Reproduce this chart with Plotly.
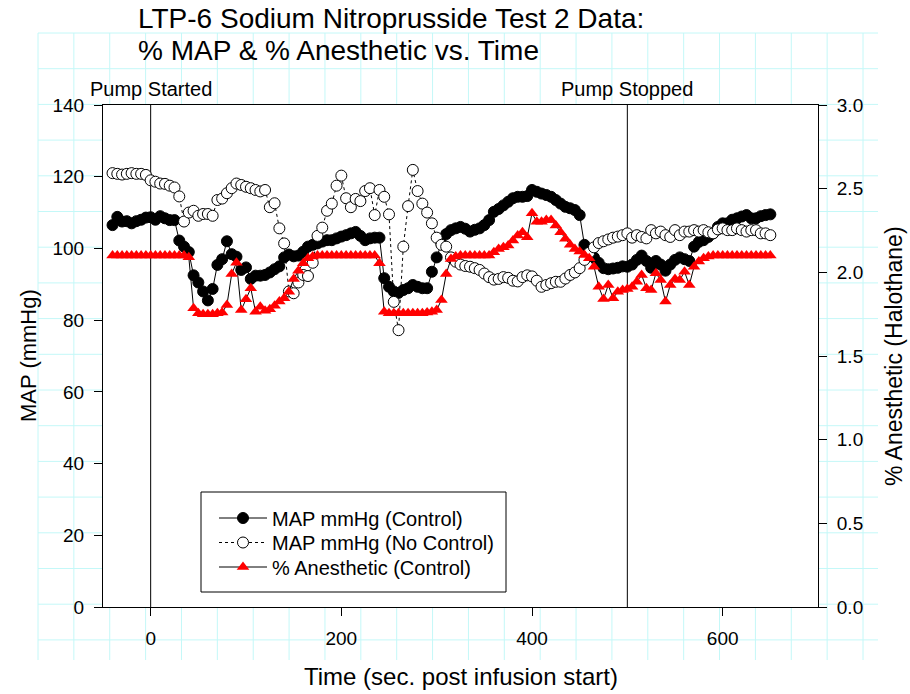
import plotly.graph_objects as go

# ---------------- data ----------------
time_s = [-40, -35, -30, -25, -20, -15, -10, -5, 0, 5,
          10, 15, 20, 25, 30, 35, 40, 45, 50, 55,
          60, 65, 70, 75, 80, 85, 90, 95, 100, 105,
          110, 115, 120, 125, 130, 135, 140, 145, 150, 155,
          160, 165, 170, 175, 180, 185, 190, 195, 200, 205,
          210, 215, 220, 225, 230, 235, 240, 245, 250, 255,
          260, 265, 270, 275, 280, 285, 290, 295, 300, 305,
          310, 315, 320, 325, 330, 335, 340, 345, 350, 355,
          360, 365, 370, 375, 380, 385, 390, 395, 400, 405,
          410, 415, 420, 425, 430, 435, 440, 445, 450, 455,
          460, 465, 470, 475, 480, 485, 490, 495, 500, 505,
          510, 515, 520, 525, 530, 535, 540, 545, 550, 555,
          560, 565, 570, 575, 580, 585, 590, 595, 600, 605,
          610, 615, 620, 625, 630, 635, 640, 645, 650]

map_control = [106.5, 108.8, 107.5, 107.6, 107.0, 107.6, 108.0, 108.6, 108.7, 108.0,
               109.0, 108.4, 107.9, 107.9, 102.2, 100.5, 99.0, 92.5, 90.5, 88.0,
               85.5, 88.7, 95.4, 97.0, 102.0, 98.4, 97.7, 94.0, 94.7, 91.5,
               92.4, 92.4, 92.6, 93.3, 94.2, 95.0, 97.5, 98.3, 97.8, 98.0,
               99.1, 100.5, 101.0, 101.4, 101.9, 102.3, 102.3, 102.8, 103.3, 103.7,
               104.2, 104.6, 103.5, 102.3, 102.8, 103.0, 103.0, 91.7, 89.3, 88.0,
               87.6, 88.4, 88.9, 89.8, 89.3, 88.9, 88.9, 93.5, 97.5, 101.4,
               104.0, 105.1, 105.6, 106.0, 105.5, 104.7, 105.2, 105.6, 106.5, 107.9,
               110.2, 111.0, 112.0, 113.0, 114.0, 114.4, 114.4, 114.6, 116.3, 115.8,
               115.3, 114.9, 114.4, 113.5, 112.5, 111.6, 111.2, 110.7, 109.3, 101.0,
               99.1, 97.5, 96.0, 94.5, 94.2, 94.4, 94.6, 95.0, 94.9, 95.5,
               96.8, 98.0, 96.5, 94.6, 96.5, 95.5, 93.8, 95.5, 96.8, 97.5,
               97.0, 96.5, 100.5, 101.8, 102.3, 103.2, 104.2, 106.0, 107.0, 107.0,
               108.0, 108.4, 108.9, 109.3, 108.4, 108.4, 109.0, 109.3, 109.5]

map_no_control = [121.0, 120.8, 120.6, 120.8, 121.0, 120.8, 120.8, 120.5, 119.0, 118.6,
                  118.1, 118.0, 117.5, 117.0, 114.5, 107.5, 110.0, 110.5, 109.1, 109.6,
                  109.6, 109.1, 113.5, 113.9, 115.4, 116.8, 118.1, 117.7, 117.2, 116.8,
                  116.3, 115.9, 116.3, 111.5, 112.6, 105.6, 101.4, 88.0, 87.5, 90.5,
                  92.6, 92.3, 96.0, 103.5, 105.8, 110.5, 112.5, 117.5, 120.3, 114.0,
                  111.5, 113.8, 113.2, 116.0, 116.8, 109.3, 116.3, 114.4, 109.5, 85.1,
                  77.2, 100.5, 111.8, 121.9, 116.0, 112.5, 110.0, 107.0, 103.0, 101.0,
                  100.5, 97.5, 96.3, 95.5, 95.1, 94.9, 94.5, 94.0, 93.0, 92.0,
                  91.3, 91.5, 92.0, 91.8, 91.0, 90.8, 92.0, 92.5, 92.2, 91.0,
                  89.3, 89.8, 90.3, 90.7, 90.7, 91.6, 92.6, 93.3, 94.5, 96.8,
                  98.8, 100.3, 101.5, 102.0, 102.5, 103.0, 103.3, 103.7, 104.2, 103.0,
                  103.7, 103.2, 102.8, 105.1, 104.2, 104.7, 103.7, 103.2, 105.1, 103.7,
                  104.7, 104.7, 105.1, 104.7, 105.1, 104.5, 104.2, 105.3, 105.6, 105.1,
                  105.1, 105.6, 105.1, 104.7, 105.1, 105.1, 104.2, 104.2, 103.7]

anesthetic_pct = [2.1, 2.1, 2.1, 2.1, 2.1, 2.1, 2.1, 2.1, 2.1, 2.1,
                  2.1, 2.1, 2.1, 2.1, 2.1, 2.1, 2.09, 1.785, 1.755, 1.75,
                  1.75, 1.75, 1.755, 1.76, 1.805, 1.99, 2.058, 1.775, 1.839, 1.905,
                  1.765, 1.795, 1.771, 1.78, 1.80, 1.825, 1.845, 1.884, 1.96, 2.01,
                  2.054, 2.084, 2.094, 2.1, 2.1, 2.1, 2.1, 2.1, 2.1, 2.1,
                  2.1, 2.1, 2.1, 2.1, 2.1, 2.1, 2.054, 1.765, 1.755, 1.755,
                  1.755, 1.755, 1.755, 1.755, 1.755, 1.755, 1.76, 1.765, 1.775, 1.835,
                  1.99, 2.08, 2.094, 2.1, 2.1, 2.1, 2.1, 2.1, 2.1, 2.1,
                  2.12, 2.14, 2.15, 2.16, 2.19, 2.22, 2.24, 2.21, 2.353, 2.303,
                  2.303, 2.313, 2.313, 2.28, 2.24, 2.2, 2.165, 2.14, 2.124, 2.104,
                  2.084, 2.034, 1.914, 1.84, 1.924, 1.845, 1.884, 1.894, 1.9, 1.914,
                  1.944, 1.984, 1.905, 1.894, 1.994, 1.954, 1.825, 1.924, 1.96, 1.954,
                  2.004, 1.924, 2.034, 2.064, 2.084, 2.094, 2.1, 2.1, 2.1, 2.1,
                  2.1, 2.1, 2.1, 2.1, 2.1, 2.1, 2.1, 2.1, 2.1]

assert len(time_s) == len(map_control) == len(map_no_control) == len(anesthetic_pct), (
    len(time_s), len(map_control), len(map_no_control), len(anesthetic_pct))

pump_times = [0, 500]
pump_labels = ["Pump Started", "Pump Stopped"]
x_ticks = [0, 200, 400, 600]
y_left_ticks = [0, 20, 40, 60, 80, 100, 120, 140]
y_right_ticks = [0.0, 0.5, 1.0, 1.5, 2.0, 2.5, 3.0]

title_lines = ["LTP-6 Sodium Nitroprusside Test 2 Data:",
               "% MAP & % Anesthetic vs. Time"]
series_names = ["MAP mmHg (Control)", "MAP mmHg (No Control)", "% Anesthetic (Control)"]

# ---------------- layout geometry ----------------
W, H = 910, 694
PL, PR, PT, PB = 103, 818, 105, 607   # plot area in page pixels
FONT = "Arial, 'Liberation Sans', sans-serif"


def px_x(px):
    return (px - PL) / (PR - PL)


def px_y(py):
    return (PB - py) / (PB - PT)


shapes = []
# page grid (graph paper) behind everything
GRID = "#c4f8f8"
for k in range(24):
    gx = 38 + 35.87 * k
    shapes.append(dict(type="line", xref="paper", yref="paper", layer="below",
                       x0=px_x(gx), x1=px_x(gx), y0=px_y(33), y1=px_y(660),
                       line=dict(color=GRID, width=1)))
for k in range(18):
    gy = 33 + 35.7 * k
    shapes.append(dict(type="line", xref="paper", yref="paper", layer="below",
                       x0=px_x(38), x1=px_x(878), y0=px_y(gy), y1=px_y(gy),
                       line=dict(color=GRID, width=1)))
# white plot area covering the grid
shapes.append(dict(type="rect", xref="paper", yref="paper", layer="below",
                   x0=0, x1=1, y0=0, y1=1, fillcolor="white", line=dict(width=0)))
# legend box
shapes.append(dict(type="rect", xref="paper", yref="paper", layer="below",
                   x0=px_x(201), x1=px_x(506), y0=px_y(592), y1=px_y(492),
                   fillcolor="white", line=dict(color="black", width=1)))
# pump lines
for t in pump_times:
    shapes.append(dict(type="line", xref="x", yref="paper", layer="below",
                       x0=t, x1=t, y0=0, y1=1, line=dict(color="black", width=1)))

fig = go.Figure()
fig.add_trace(go.Scatter(
    x=time_s, y=map_control, name=series_names[0], mode="lines+markers", legend="legend",
    line=dict(color="black", width=1),
    marker=dict(symbol="circle", size=11, color="black", line=dict(color="black", width=1))))
fig.add_trace(go.Scatter(
    x=time_s, y=map_no_control, name=series_names[1], mode="lines+markers", legend="legend2",
    line=dict(color="black", width=1, dash="dot"),
    marker=dict(symbol="circle", size=11, color="white", line=dict(color="black", width=1))))
fig.add_trace(go.Scatter(
    x=time_s, y=anesthetic_pct, name=series_names[2], mode="lines+markers", yaxis="y2",
    legend="legend3",
    line=dict(color="black", width=1),
    marker=dict(symbol="triangle-up", size=11, color="red", line=dict(color="red", width=0))))

annotations = [
    dict(text=title_lines[0], xref="paper", yref="paper", x=px_x(136), y=px_y(19),
         xanchor="left", yanchor="middle", showarrow=False, font=dict(size=28, color="black")),
    dict(text=title_lines[1], xref="paper", yref="paper", x=px_x(136), y=px_y(50),
         xanchor="left", yanchor="middle", showarrow=False, font=dict(size=28, color="black")),
    dict(text="MAP (mmHg)", xref="paper", yref="paper", x=px_x(28), y=0.5,
         xanchor="center", yanchor="middle",
         textangle=-90, showarrow=False, font=dict(size=22, color="black")),
    dict(text="% Anesthetic (Halothane)", xref="paper", yref="paper", x=px_x(894), y=0.5,
         xanchor="center", yanchor="middle",
         textangle=-90, showarrow=False, font=dict(size=23, color="black")),
    dict(text="Time (sec. post infusion start)", xref="paper", yref="paper", x=0.5, y=px_y(677),
         xanchor="center", yanchor="middle",
         showarrow=False, font=dict(size=24, color="black")),
]
for t, lab in zip(pump_times, pump_labels):
    annotations.append(dict(text=lab, xref="x", yref="paper", x=t, y=px_y(89),
                            xanchor="center", yanchor="middle",
                            showarrow=False, font=dict(size=20, color="black")))

leg_common = dict(x=px_x(214), xanchor="left", yanchor="middle",
                  bgcolor="rgba(0,0,0,0)", borderwidth=0,
                  font=dict(size=20, color="black"), itemwidth=48)

fig.update_layout(
    width=W, height=H,
    margin=dict(l=PL, r=W - PR, t=PT, b=H - PB, pad=0, autoexpand=False),
    paper_bgcolor="white", plot_bgcolor="white",
    font=dict(family=FONT, color="black", size=19),
    showlegend=True,
    legend=dict(y=px_y(518), **leg_common),
    legend2=dict(y=px_y(542.5), **leg_common),
    legend3=dict(y=px_y(567), **leg_common),
    xaxis=dict(range=[-50, 700], tickvals=x_ticks, ticks="outside", ticklen=8,
               tickcolor="black", showline=True, linecolor="black", linewidth=1,
               mirror=True, showgrid=False, zeroline=False,
               tickfont=dict(size=19), ticklabelstandoff=6),
    yaxis=dict(range=[0, 140], tickvals=y_left_ticks, ticks="outside", ticklen=8,
               tickcolor="black", showline=True, linecolor="black", linewidth=1,
               mirror=True, showgrid=False, zeroline=False,
               tickfont=dict(size=19), ticklabelstandoff=6),
    yaxis2=dict(range=[0, 3], tickvals=y_right_ticks,
                ticktext=["%.1f" % v for v in y_right_ticks],
                overlaying="y", side="right", ticks="outside", ticklen=8,
                tickcolor="black", showline=True, linecolor="black", linewidth=1,
                showgrid=False, zeroline=False,
                tickfont=dict(size=19), ticklabelstandoff=6),
    shapes=shapes,
    annotations=annotations,
)

# remove the browser's default page margin so the figure fills the window exactly
fig.write_html("out.html", config={"displayModeBar": False},
               post_script="document.body.style.margin='0';document.body.style.overflow='hidden';")
